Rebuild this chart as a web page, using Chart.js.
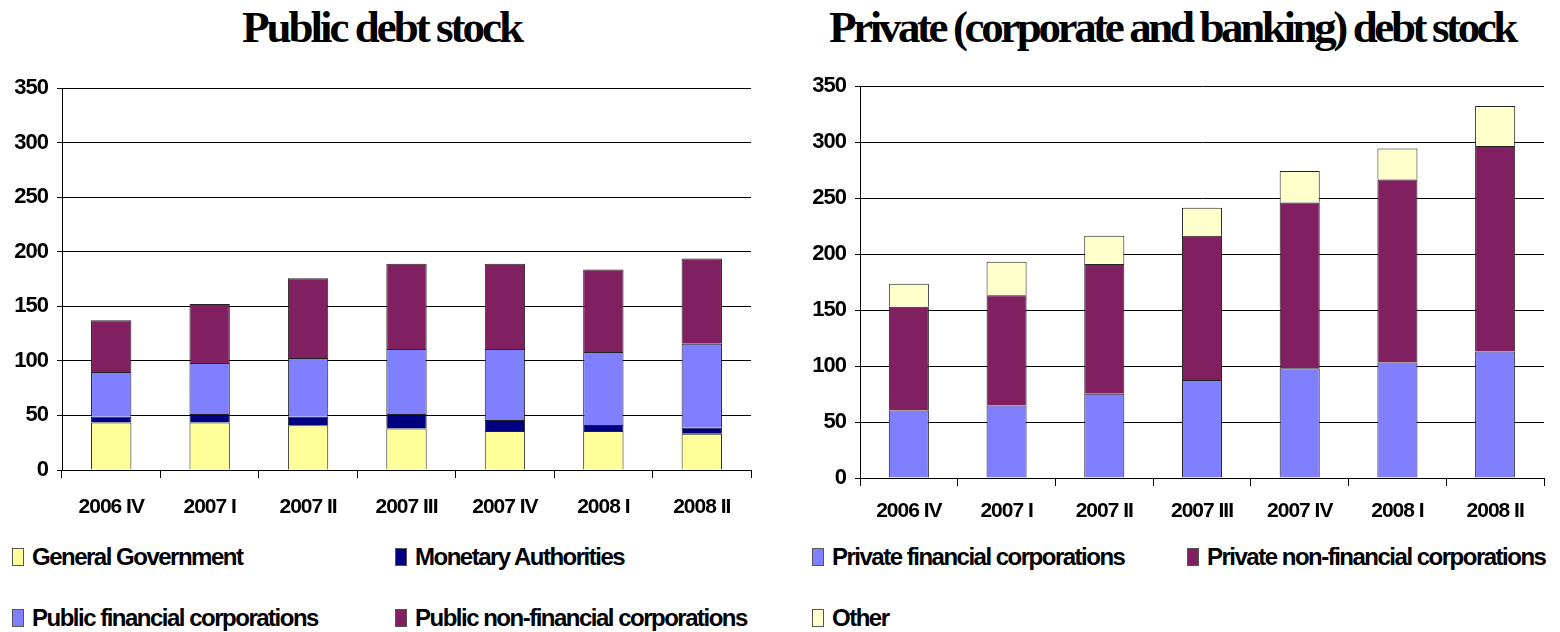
<!DOCTYPE html>
<html>
<head>
<meta charset="utf-8">
<script src="https://cdn.jsdelivr.net/npm/chart.js@4"></script>
<style>
  body { margin: 0; background: #fff; width: 1560px; height: 632px; position: relative; overflow: hidden; }
  .title { position: absolute; top: 5px; font: bold 45px "Liberation Serif", "Times New Roman", serif; line-height: 45px; letter-spacing: -3px; text-align: center; color: #000; white-space: nowrap; }
  canvas { position: absolute; top: 50px; }
  .legend { position: absolute; display: grid; grid-auto-rows: 61px; font: bold 24px "Liberation Sans", Arial, sans-serif; letter-spacing: -1.5px; color: #000; }
  .legend .item { display: flex; align-items: center; height: 24px; white-space: nowrap; }
  .legend .box { width: 10px; height: 16px; border: 1px solid #555; margin-right: 8px; flex: none; }
</style>
</head>
<body>
<div class="title" style="left:0;width:763px">Public debt stock</div>
<div class="title" style="left:780px;width:784px;letter-spacing:-3.4px">Private (corporate and banking) debt stock</div>
<canvas id="publicChart" width="780" height="480" style="left:0"></canvas>
<canvas id="privateChart" width="780" height="480" style="left:780px"></canvas>
<div id="publicLegend" class="legend" style="left:12px;top:545px;grid-template-columns:383px auto"></div>
<div id="privateLegend" class="legend" style="left:812px;top:545px;grid-template-columns:375px auto"></div>
<script>
const quarters = ["2006 IV", "2007 I", "2007 II", "2007 III", "2007 IV", "2008 I", "2008 II"];
const yTicks = [0, 50, 100, 150, 200, 250, 300, 350];

// public debt stock
const generalGovernment = [43.5, 43.5, 41.0, 38.0, 35.8, 35.8, 33.1];
const monetaryAuthorities = [5.2, 7.9, 7.7, 13.4, 10.1, 5.5, 5.5];
const publicFinancial = [41.0, 46.6, 53.9, 59.4, 64.9, 66.8, 77.1];
const publicNonFinancial = [47.5, 54.2, 73.1, 78.1, 78.1, 75.6, 78.1];

// private debt stock
const privateFinancial = [60.3, 64.8, 75.2, 87.6, 98.0, 103.1, 112.9];
const privateNonFinancial = [92.7, 98.3, 115.8, 128.7, 148.0, 163.4, 183.6];
const otherPrivate = [20.5, 30.0, 25.3, 24.9, 28.2, 27.6, 35.6];

const tightText = {
  id: "tightText",
  beforeLayout(chart) { chart.ctx.letterSpacing = "-1px"; },
  beforeDraw(chart) { chart.ctx.letterSpacing = "-1px"; }
};

function bar(label, data, color) {
  return {
    label, data,
    backgroundColor: color,
    borderColor: "#222",
    borderWidth: 1,
    categoryPercentage: 1,
    barPercentage: 0.41
  };
}

function makeOptions(yWidth, xHeight, pad, labelPad) {
  return {
    responsive: false,
    animation: false,
    layout: { padding: pad },
    plugins: { legend: { display: false }, title: { display: false }, tooltip: { enabled: false } },
    scales: {
      x: {
        stacked: true,
        grid: {
          color: c => c.index === quarters.length ? "#000" : "rgba(0,0,0,0)",
          tickColor: "#000",
          tickLength: 8,
          lineWidth: 1
        },
        border: { display: true, color: "#000" },
        ticks: { color: "#000", padding: labelPad, font: { family: "'Liberation Sans', Arial", size: 21, weight: "bold" } },
        afterFit: s => { s.height = xHeight; }
      },
      y: {
        stacked: true,
        min: yTicks[0],
        max: yTicks[yTicks.length - 1],
        grid: { color: "#000", tickColor: "#000", tickLength: 5, lineWidth: 1 },
        border: { display: true, color: "#000" },
        ticks: { stepSize: yTicks[1] - yTicks[0], color: "#000", padding: 9, font: { family: "'Liberation Sans', Arial", size: 22, weight: "bold" } },
        afterFit: s => { s.width = yWidth; }
      }
    }
  };
}

const publicChart = new Chart(document.getElementById("publicChart"), {
  type: "bar",
  data: {
    labels: quarters,
    datasets: [
      bar("General Government", generalGovernment, "#FFFF99"),
      bar("Monetary Authorities", monetaryAuthorities, "#000080"),
      bar("Public financial corporations", publicFinancial, "#8080FF"),
      bar("Public non-financial corporations", publicNonFinancial, "#802060")
    ]
  },
  options: makeOptions(62, 60, { top: 38, right: 29, left: 0, bottom: 0 }, 17),
  plugins: [tightText]
});

const privateChart = new Chart(document.getElementById("privateChart"), {
  type: "bar",
  data: {
    labels: quarters,
    datasets: [
      bar("Private financial corporations", privateFinancial, "#8080FF"),
      bar("Private non-financial corporations", privateNonFinancial, "#802060"),
      bar("Other", otherPrivate, "#FFFFCC")
    ]
  },
  options: makeOptions(80, 52, { top: 36, right: 16, left: 0, bottom: 0 }, 13),
  plugins: [tightText]
});

function buildLegend(chart, id) {
  const el = document.getElementById(id);
  chart.data.datasets.forEach(ds => {
    const item = document.createElement("div");
    item.className = "item";
    item.innerHTML = `<span class="box" style="background:${ds.backgroundColor}"></span>${ds.label}`;
    el.appendChild(item);
  });
}

buildLegend(publicChart, "publicLegend");
buildLegend(privateChart, "privateLegend");
</script>
</body>
</html>
